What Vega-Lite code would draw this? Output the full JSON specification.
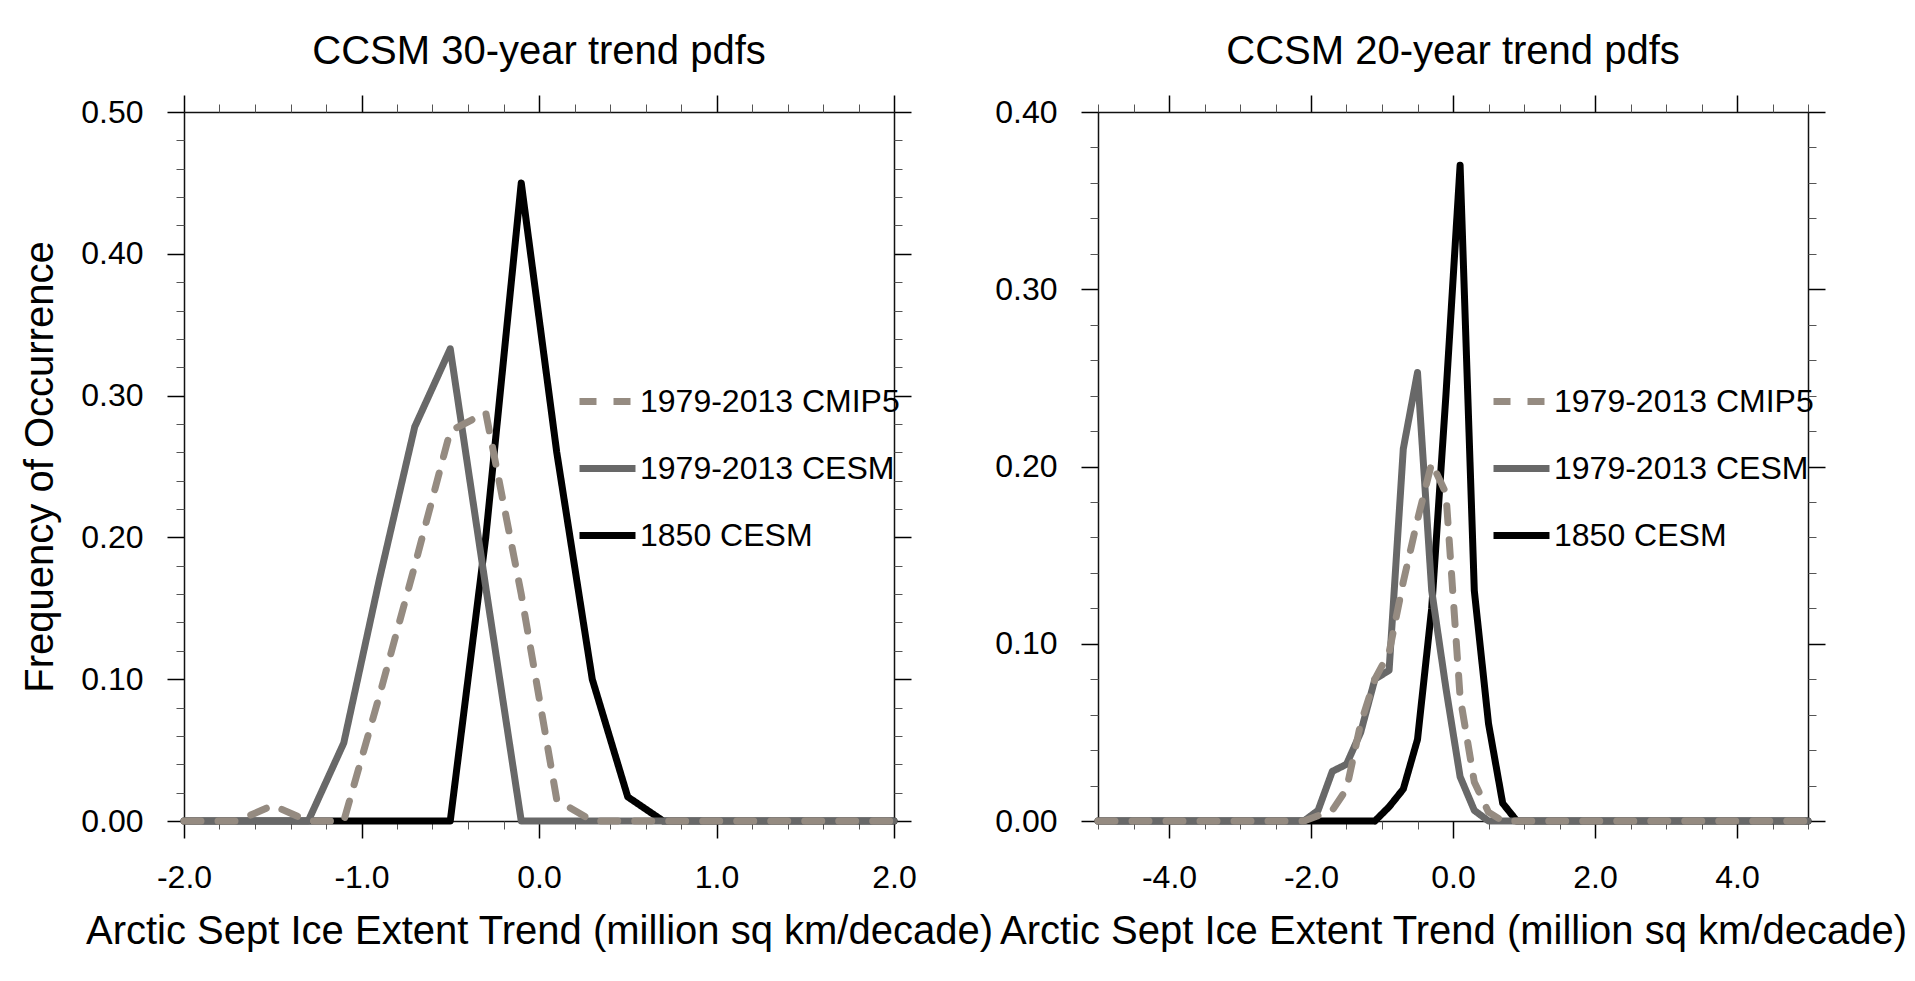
{
  "$schema": "https://vega.github.io/schema/vega-lite/v6.json",
  "background": "white",
  "padding": {"left": 20, "top": 32, "right": 5, "bottom": 5},
  "datasets": {
    "trend30": [
      {"x": -2.0, "cmip5": 0, "cesm": 0, "cesm1850": 0},
      {"x": -1.9, "cmip5": 0, "cesm": 0, "cesm1850": 0},
      {"x": -1.7, "cmip5": 0, "cesm": 0, "cesm1850": 0},
      {"x": -1.5, "cmip5": 0.011, "cesm": 0, "cesm1850": 0},
      {"x": -1.3, "cmip5": 0, "cesm": 0, "cesm1850": 0},
      {"x": -1.1, "cmip5": 0, "cesm": 0.055, "cesm1850": 0},
      {"x": -0.9, "cmip5": 0.088, "cesm": 0.17, "cesm1850": 0},
      {"x": -0.7, "cmip5": 0.18, "cesm": 0.278, "cesm1850": 0},
      {"x": -0.5, "cmip5": 0.275, "cesm": 0.333, "cesm1850": 0},
      {"x": -0.3, "cmip5": 0.288, "cesm": 0.165, "cesm1850": 0.2},
      {"x": -0.1, "cmip5": 0.16, "cesm": 0, "cesm1850": 0.45},
      {"x": 0.1, "cmip5": 0.015, "cesm": 0, "cesm1850": 0.26},
      {"x": 0.3, "cmip5": 0, "cesm": 0, "cesm1850": 0.1},
      {"x": 0.5, "cmip5": 0, "cesm": 0, "cesm1850": 0.017},
      {"x": 0.7, "cmip5": 0, "cesm": 0, "cesm1850": 0},
      {"x": 0.9, "cmip5": 0, "cesm": 0, "cesm1850": 0},
      {"x": 1.1, "cmip5": 0, "cesm": 0, "cesm1850": 0},
      {"x": 1.3, "cmip5": 0, "cesm": 0, "cesm1850": 0},
      {"x": 1.5, "cmip5": 0, "cesm": 0, "cesm1850": 0},
      {"x": 1.7, "cmip5": 0, "cesm": 0, "cesm1850": 0},
      {"x": 1.9, "cmip5": 0, "cesm": 0, "cesm1850": 0},
      {"x": 2.0, "cmip5": 0, "cesm": 0, "cesm1850": 0}
    ],
    "trend20": [
      {"x": -5.0, "cmip5": 0, "cesm": 0, "cesm1850": 0},
      {"x": -4.9, "cmip5": 0, "cesm": 0, "cesm1850": 0},
      {"x": -4.7, "cmip5": 0, "cesm": 0, "cesm1850": 0},
      {"x": -4.5, "cmip5": 0, "cesm": 0, "cesm1850": 0},
      {"x": -4.3, "cmip5": 0, "cesm": 0, "cesm1850": 0},
      {"x": -4.1, "cmip5": 0, "cesm": 0, "cesm1850": 0},
      {"x": -3.9, "cmip5": 0, "cesm": 0, "cesm1850": 0},
      {"x": -3.7, "cmip5": 0, "cesm": 0, "cesm1850": 0},
      {"x": -3.5, "cmip5": 0, "cesm": 0, "cesm1850": 0},
      {"x": -3.3, "cmip5": 0, "cesm": 0, "cesm1850": 0},
      {"x": -3.1, "cmip5": 0, "cesm": 0, "cesm1850": 0},
      {"x": -2.9, "cmip5": 0, "cesm": 0, "cesm1850": 0},
      {"x": -2.7, "cmip5": 0, "cesm": 0, "cesm1850": 0},
      {"x": -2.5, "cmip5": 0, "cesm": 0, "cesm1850": 0},
      {"x": -2.3, "cmip5": 0, "cesm": 0, "cesm1850": 0},
      {"x": -2.1, "cmip5": 0, "cesm": 0, "cesm1850": 0},
      {"x": -1.9, "cmip5": 0.003, "cesm": 0.006, "cesm1850": 0},
      {"x": -1.7, "cmip5": 0.006, "cesm": 0.028, "cesm1850": 0},
      {"x": -1.5, "cmip5": 0.018, "cesm": 0.032, "cesm1850": 0},
      {"x": -1.3, "cmip5": 0.055, "cesm": 0.05, "cesm1850": 0},
      {"x": -1.1, "cmip5": 0.08, "cesm": 0.08, "cesm1850": 0},
      {"x": -0.9, "cmip5": 0.095, "cesm": 0.085, "cesm1850": 0.008},
      {"x": -0.7, "cmip5": 0.135, "cesm": 0.21, "cesm1850": 0.018},
      {"x": -0.5, "cmip5": 0.17, "cesm": 0.253, "cesm1850": 0.046},
      {"x": -0.3, "cmip5": 0.202, "cesm": 0.13, "cesm1850": 0.12},
      {"x": -0.1, "cmip5": 0.185, "cesm": 0.075, "cesm1850": 0.24},
      {"x": 0.1, "cmip5": 0.07, "cesm": 0.025, "cesm1850": 0.37},
      {"x": 0.3, "cmip5": 0.022, "cesm": 0.006, "cesm1850": 0.13},
      {"x": 0.5, "cmip5": 0.005, "cesm": 0, "cesm1850": 0.055},
      {"x": 0.7, "cmip5": 0, "cesm": 0, "cesm1850": 0.01},
      {"x": 0.9, "cmip5": 0, "cesm": 0, "cesm1850": 0},
      {"x": 1.1, "cmip5": 0, "cesm": 0, "cesm1850": 0},
      {"x": 1.3, "cmip5": 0, "cesm": 0, "cesm1850": 0},
      {"x": 1.5, "cmip5": 0, "cesm": 0, "cesm1850": 0},
      {"x": 1.7, "cmip5": 0, "cesm": 0, "cesm1850": 0},
      {"x": 1.9, "cmip5": 0, "cesm": 0, "cesm1850": 0},
      {"x": 2.1, "cmip5": 0, "cesm": 0, "cesm1850": 0},
      {"x": 2.3, "cmip5": 0, "cesm": 0, "cesm1850": 0},
      {"x": 2.5, "cmip5": 0, "cesm": 0, "cesm1850": 0},
      {"x": 2.7, "cmip5": 0, "cesm": 0, "cesm1850": 0},
      {"x": 2.9, "cmip5": 0, "cesm": 0, "cesm1850": 0},
      {"x": 3.1, "cmip5": 0, "cesm": 0, "cesm1850": 0},
      {"x": 3.3, "cmip5": 0, "cesm": 0, "cesm1850": 0},
      {"x": 3.5, "cmip5": 0, "cesm": 0, "cesm1850": 0},
      {"x": 3.7, "cmip5": 0, "cesm": 0, "cesm1850": 0},
      {"x": 3.9, "cmip5": 0, "cesm": 0, "cesm1850": 0},
      {"x": 4.1, "cmip5": 0, "cesm": 0, "cesm1850": 0},
      {"x": 4.3, "cmip5": 0, "cesm": 0, "cesm1850": 0},
      {"x": 4.5, "cmip5": 0, "cesm": 0, "cesm1850": 0},
      {"x": 4.7, "cmip5": 0, "cesm": 0, "cesm1850": 0},
      {"x": 4.9, "cmip5": 0, "cesm": 0, "cesm1850": 0},
      {"x": 5.0, "cmip5": 0, "cesm": 0, "cesm1850": 0}
    ]
  },
  "config": {
    "font": "Liberation Sans",
    "view": {"stroke": null},
    "axis": {
      "grid": false,
      "labelFont": "Liberation Sans",
      "labelFontSize": 32,
      "labelColor": "#000000",
      "labelPadding": 24,
      "labelFlush": false,
      "labelOverlap": false,
      "titleFont": "Liberation Sans",
      "titleFontSize": 40,
      "titleFontWeight": "normal",
      "titleColor": "#000000",
      "domainColor": "#111111",
      "domainWidth": 1.5,
      "tickColor": "#000000"
    },
    "title": {"font": "Liberation Sans", "fontSize": 40, "fontWeight": "normal", "color": "#000000", "offset": 22},
    "legend": {
      "orient": "none",
      "legendX": 392,
      "legendY": 258,
      "direction": "vertical",
      "padding": 0,
      "symbolType": "stroke",
      "symbolSize": 3136,
      "symbolStrokeWidth": 7,
      "labelFont": "Liberation Sans",
      "labelFontSize": 32,
      "labelColor": "#000000",
      "labelLimit": 0,
      "labelOffset": 1,
      "rowPadding": 19
    }
  },
  "spacing": 204,
  "bounds": "flush",
  "resolve": {
    "scale": {"color": "independent", "strokeDash": "independent"},
    "legend": {"color": "independent", "strokeDash": "independent"}
  },
  "hconcat": [
    {
      "width": 710,
      "height": 709,
      "title": {"text": "CCSM 30-year trend pdfs"},
      "data": {"name": "trend30"},
      "transform": [{"fold": ["cmip5", "cesm", "cesm1850"], "as": ["series", "freq"]}],
      "resolve": {"axis": {"x": "independent", "y": "independent"}},
      "layer": [
        {
          "transform": [{"filter": "datum.series === 'cesm1850'"}],
          "mark": {"type": "line", "strokeWidth": 7, "strokeCap": "round", "strokeJoin": "round"},
          "encoding": {
            "x": {"field": "x", "type": "quantitative", "scale": {"domain": [-2, 2], "nice": false, "zero": false},
              "axis": {"orient": "bottom", "values": [-2, -1, 0, 1, 2], "tickSize": 17, "tickWidth": 1.5, "domain": true,
                "labelExpr": "replace(format(datum.value, '.1f'), '\u2212', '-')",
                "title": "Arctic Sept Ice Extent Trend (million sq km/decade)", "titlePadding": 18}},
            "y": {"field": "freq", "type": "quantitative", "scale": {"domain": [0, 0.5], "nice": false},
              "axis": {"orient": "left", "values": [0, 0.1, 0.2, 0.3, 0.4, 0.5], "format": ".2f", "tickSize": 17, "tickWidth": 1.5, "domain": true,
                "title": "Frequency of Occurrence", "titlePadding": 20}},
            "color": {"field": "series", "type": "nominal", "scale": {"domain": ["cmip5", "cesm", "cesm1850"], "range": ["#958b81", "#686868", "#000000"]},
              "legend": {"title": null, "labelExpr": "datum.label === 'cmip5' ? '1979-2013 CMIP5' : datum.label === 'cesm' ? '1979-2013 CESM' : '1850 CESM'"}},
            "strokeDash": {"field": "series", "type": "nominal", "scale": {"domain": ["cmip5", "cesm", "cesm1850"], "range": [[17, 17], [1, 0], [1, 0]]},
              "legend": {"title": null, "labelExpr": "datum.label === 'cmip5' ? '1979-2013 CMIP5' : datum.label === 'cesm' ? '1979-2013 CESM' : '1850 CESM'"}}
          }
        },
        {
          "transform": [{"filter": "datum.series === 'cesm'"}],
          "mark": {"type": "line", "strokeWidth": 7, "strokeCap": "round", "strokeJoin": "round"},
          "encoding": {
            "x": {"field": "x", "type": "quantitative", "axis": null},
            "y": {"field": "freq", "type": "quantitative", "axis": null},
            "color": {"field": "series", "type": "nominal",
              "legend": {"title": null, "labelExpr": "datum.label === 'cmip5' ? '1979-2013 CMIP5' : datum.label === 'cesm' ? '1979-2013 CESM' : '1850 CESM'"}},
            "strokeDash": {"field": "series", "type": "nominal",
              "legend": {"title": null, "labelExpr": "datum.label === 'cmip5' ? '1979-2013 CMIP5' : datum.label === 'cesm' ? '1979-2013 CESM' : '1850 CESM'"}}
          }
        },
        {
          "transform": [{"filter": "datum.series === 'cmip5'"}],
          "mark": {"type": "line", "strokeWidth": 7, "strokeCap": "round", "strokeJoin": "round"},
          "encoding": {
            "x": {"field": "x", "type": "quantitative", "axis": null},
            "y": {"field": "freq", "type": "quantitative", "axis": null},
            "color": {"field": "series", "type": "nominal",
              "legend": {"title": null, "labelExpr": "datum.label === 'cmip5' ? '1979-2013 CMIP5' : datum.label === 'cesm' ? '1979-2013 CESM' : '1850 CESM'"}},
            "strokeDash": {"field": "series", "type": "nominal",
              "legend": {"title": null, "labelExpr": "datum.label === 'cmip5' ? '1979-2013 CMIP5' : datum.label === 'cesm' ? '1979-2013 CESM' : '1850 CESM'"}}
          }
        },
        {
          "mark": {"type": "point", "opacity": 0},
          "encoding": {
            "x": {"field": "x", "type": "quantitative",
              "axis": {"orient": "bottom", "values": [-1.8, -1.6, -1.4, -1.2, -0.8, -0.6, -0.4, -0.2, 0.2, 0.4, 0.6, 0.8, 1.2, 1.4, 1.6, 1.8], "tickSize": 8, "tickWidth": 1, "tickColor": "#555555", "labels": false, "domain": false, "title": null}},
            "y": {"field": "freq", "type": "quantitative",
              "axis": {"orient": "left", "values": [0.02, 0.04, 0.06, 0.08, 0.12, 0.14, 0.16, 0.18, 0.22, 0.24, 0.26, 0.28, 0.32, 0.34, 0.36, 0.38, 0.42, 0.44, 0.46, 0.48], "tickSize": 8, "tickWidth": 1, "tickColor": "#555555", "labels": false, "domain": false, "title": null}}
          }
        },
        {
          "mark": {"type": "point", "opacity": 0},
          "encoding": {
            "x": {"field": "x", "type": "quantitative",
              "axis": {"orient": "top", "values": [-2, -1, 0, 1, 2], "tickSize": 17, "tickWidth": 1.5, "labels": false, "domain": true, "title": null}},
            "y": {"field": "freq", "type": "quantitative",
              "axis": {"orient": "right", "values": [0, 0.1, 0.2, 0.3, 0.4, 0.5], "tickSize": 17, "tickWidth": 1.5, "labels": false, "domain": true, "title": null}}
          }
        },
        {
          "mark": {"type": "point", "opacity": 0},
          "encoding": {
            "x": {"field": "x", "type": "quantitative",
              "axis": {"orient": "top", "values": [-1.8, -1.6, -1.4, -1.2, -0.8, -0.6, -0.4, -0.2, 0.2, 0.4, 0.6, 0.8, 1.2, 1.4, 1.6, 1.8], "tickSize": 8, "tickWidth": 1, "tickColor": "#555555", "labels": false, "domain": false, "title": null}},
            "y": {"field": "freq", "type": "quantitative",
              "axis": {"orient": "right", "values": [0.02, 0.04, 0.06, 0.08, 0.12, 0.14, 0.16, 0.18, 0.22, 0.24, 0.26, 0.28, 0.32, 0.34, 0.36, 0.38, 0.42, 0.44, 0.46, 0.48], "tickSize": 8, "tickWidth": 1, "tickColor": "#555555", "labels": false, "domain": false, "title": null}}
          }
        }
      ]
    },
    {
      "width": 710,
      "height": 709,
      "title": {"text": "CCSM 20-year trend pdfs"},
      "data": {"name": "trend20"},
      "transform": [{"fold": ["cmip5", "cesm", "cesm1850"], "as": ["series", "freq"]}],
      "resolve": {"axis": {"x": "independent", "y": "independent"}},
      "layer": [
        {
          "transform": [{"filter": "datum.series === 'cesm1850'"}],
          "mark": {"type": "line", "strokeWidth": 7, "strokeCap": "round", "strokeJoin": "round"},
          "encoding": {
            "x": {"field": "x", "type": "quantitative", "scale": {"domain": [-5, 5], "nice": false, "zero": false},
              "axis": {"orient": "bottom", "values": [-4, -2, 0, 2, 4], "tickSize": 17, "tickWidth": 1.5, "domain": true,
                "labelExpr": "replace(format(datum.value, '.1f'), '\u2212', '-')",
                "title": "Arctic Sept Ice Extent Trend (million sq km/decade)", "titlePadding": 18}},
            "y": {"field": "freq", "type": "quantitative", "scale": {"domain": [0, 0.4], "nice": false},
              "axis": {"orient": "left", "values": [0, 0.1, 0.2, 0.3, 0.4], "format": ".2f", "tickSize": 17, "tickWidth": 1.5, "domain": true, "title": null}},
            "color": {"field": "series", "type": "nominal", "scale": {"domain": ["cmip5", "cesm", "cesm1850"], "range": ["#958b81", "#686868", "#000000"]},
              "legend": {"title": null, "labelExpr": "datum.label === 'cmip5' ? '1979-2013 CMIP5' : datum.label === 'cesm' ? '1979-2013 CESM' : '1850 CESM'"}},
            "strokeDash": {"field": "series", "type": "nominal", "scale": {"domain": ["cmip5", "cesm", "cesm1850"], "range": [[17, 17], [1, 0], [1, 0]]},
              "legend": {"title": null, "labelExpr": "datum.label === 'cmip5' ? '1979-2013 CMIP5' : datum.label === 'cesm' ? '1979-2013 CESM' : '1850 CESM'"}}
          }
        },
        {
          "transform": [{"filter": "datum.series === 'cesm'"}],
          "mark": {"type": "line", "strokeWidth": 7, "strokeCap": "round", "strokeJoin": "round"},
          "encoding": {
            "x": {"field": "x", "type": "quantitative", "axis": null},
            "y": {"field": "freq", "type": "quantitative", "axis": null},
            "color": {"field": "series", "type": "nominal",
              "legend": {"title": null, "labelExpr": "datum.label === 'cmip5' ? '1979-2013 CMIP5' : datum.label === 'cesm' ? '1979-2013 CESM' : '1850 CESM'"}},
            "strokeDash": {"field": "series", "type": "nominal",
              "legend": {"title": null, "labelExpr": "datum.label === 'cmip5' ? '1979-2013 CMIP5' : datum.label === 'cesm' ? '1979-2013 CESM' : '1850 CESM'"}}
          }
        },
        {
          "transform": [{"filter": "datum.series === 'cmip5'"}],
          "mark": {"type": "line", "strokeWidth": 7, "strokeCap": "round", "strokeJoin": "round"},
          "encoding": {
            "x": {"field": "x", "type": "quantitative", "axis": null},
            "y": {"field": "freq", "type": "quantitative", "axis": null},
            "color": {"field": "series", "type": "nominal",
              "legend": {"title": null, "labelExpr": "datum.label === 'cmip5' ? '1979-2013 CMIP5' : datum.label === 'cesm' ? '1979-2013 CESM' : '1850 CESM'"}},
            "strokeDash": {"field": "series", "type": "nominal",
              "legend": {"title": null, "labelExpr": "datum.label === 'cmip5' ? '1979-2013 CMIP5' : datum.label === 'cesm' ? '1979-2013 CESM' : '1850 CESM'"}}
          }
        },
        {
          "mark": {"type": "point", "opacity": 0},
          "encoding": {
            "x": {"field": "x", "type": "quantitative",
              "axis": {"orient": "bottom", "values": [-5, -4.5, -3.5, -3, -2.5, -1.5, -1, -0.5, 0.5, 1, 1.5, 2.5, 3, 3.5, 4.5, 5], "tickSize": 8, "tickWidth": 1, "tickColor": "#555555", "labels": false, "domain": false, "title": null}},
            "y": {"field": "freq", "type": "quantitative",
              "axis": {"orient": "left", "values": [0.02, 0.04, 0.06, 0.08, 0.12, 0.14, 0.16, 0.18, 0.22, 0.24, 0.26, 0.28, 0.32, 0.34, 0.36, 0.38], "tickSize": 8, "tickWidth": 1, "tickColor": "#555555", "labels": false, "domain": false, "title": null}}
          }
        },
        {
          "mark": {"type": "point", "opacity": 0},
          "encoding": {
            "x": {"field": "x", "type": "quantitative",
              "axis": {"orient": "top", "values": [-4, -2, 0, 2, 4], "tickSize": 17, "tickWidth": 1.5, "labels": false, "domain": true, "title": null}},
            "y": {"field": "freq", "type": "quantitative",
              "axis": {"orient": "right", "values": [0, 0.1, 0.2, 0.3, 0.4], "tickSize": 17, "tickWidth": 1.5, "labels": false, "domain": true, "title": null}}
          }
        },
        {
          "mark": {"type": "point", "opacity": 0},
          "encoding": {
            "x": {"field": "x", "type": "quantitative",
              "axis": {"orient": "top", "values": [-5, -4.5, -3.5, -3, -2.5, -1.5, -1, -0.5, 0.5, 1, 1.5, 2.5, 3, 3.5, 4.5, 5], "tickSize": 8, "tickWidth": 1, "tickColor": "#555555", "labels": false, "domain": false, "title": null}},
            "y": {"field": "freq", "type": "quantitative",
              "axis": {"orient": "right", "values": [0.02, 0.04, 0.06, 0.08, 0.12, 0.14, 0.16, 0.18, 0.22, 0.24, 0.26, 0.28, 0.32, 0.34, 0.36, 0.38], "tickSize": 8, "tickWidth": 1, "tickColor": "#555555", "labels": false, "domain": false, "title": null}}
          }
        }
      ]
    }
  ]
}
